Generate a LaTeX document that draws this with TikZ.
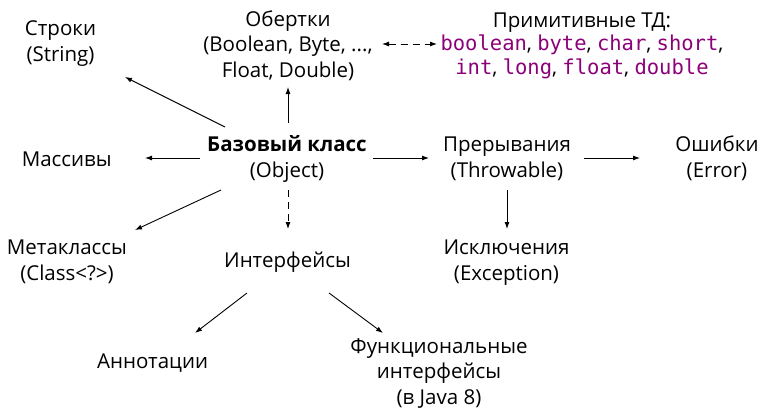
\documentclass[tikz,border=0pt]{standalone}
\usepackage{fontspec}
\setmainfont{Open Sans}
\setmonofont{DejaVu Sans Mono}
\usetikzlibrary{arrows.meta}
\definecolor{kwcol}{RGB}{140,0,120}
\newcommand\jkw[1]{\textcolor{kwcol}{\texttt{#1}}}
\begin{document}
\begin{tikzpicture}[x=1pt,y=-1pt,
  lbl/.style={font=\fontsize{20.5}{25.5}\selectfont, align=center, inner sep=0pt, anchor=base},
  arr/.style={-{Latex[length=7pt,width=5pt]}, line width=0.9pt},
  dsh/.style={arr, dash pattern=on 7pt off 5pt}]
\useasboundingbox (0,0) rectangle (761,410);
\node[lbl] (str) at (60.5,61) {Строки\\(String)};
\node[lbl] (obert) at (288,77) {Обертки\\(Boolean, Byte, ...,\\Float, Double)};
\node[lbl, font=\fontsize{20.5}{23.5}\selectfont] (prim) at (582,74) {Примитивные ТД:\\\jkw{boolean}, \jkw{byte}, \jkw{char}, \jkw{short},\\\jkw{int}, \jkw{long}, \jkw{float}, \jkw{double}};
\node[lbl] (obj) at (287,177) {\textbf{Базовый класс}\\(Object)};
\node[lbl] (mas) at (66.7,166) {Массивы};
\node[lbl] (prer) at (507,177) {Прерывания\\(Throwable)};
\node[lbl] (err) at (717,177) {Ошибки\\(Error)};
\node[lbl] (meta) at (67,280) {Метаклассы\\(Class<?>)};
\node[lbl] (intf) at (287.5,267) {Интерфейсы};
\node[lbl] (exc) at (506.5,280) {Исключения\\(Exception)};
\node[lbl] (ann) at (152.5,368) {Аннотации};
\node[lbl] (func) at (439,404) {Функциональные\\интерфейсы\\(в Java 8)};

\draw[arr] ([shift={(-62,-50)}]obj.base) -- ([shift={(64.5,16)}]str.base);
\draw[arr] ([shift={(-87,-19)}]obj.base) -- ([shift={(78.3,-8)}]mas.base);
\draw[arr] ([shift={(-66,13)}]obj.base) -- ([shift={(68,-50)}]meta.base);
\draw[arr] ([shift={(1,-54)}]obj.base) -- ([shift={(0,10)}]obert.base);
\draw[dsh] ([shift={(1,13)}]obj.base) -- ([shift={(0.5,-38)}]intf.base);
\draw[arr] ([shift={(86,-19)}]obj.base) -- ([shift={(-78,-19)}]prer.base);
\draw[arr] ([shift={(77,-19)}]prer.base) -- ([shift={(-77,-19)}]err.base);
\draw[arr] ([shift={(0,13)}]prer.base) -- ([shift={(0.5,-51)}]exc.base);
\draw[dsh, {Latex[length=7pt,width=5pt]}-{Latex[length=7pt,width=5pt]}] ([shift={(94,-33)}]obert.base) -- ([shift={(-145,-30)}]prim.base);
\draw[arr] ([shift={(-40.5,26)}]intf.base) -- ([shift={(42.5,-35)}]ann.base);
\draw[arr] ([shift={(41.5,26)}]intf.base) -- ([shift={(-56,-71)}]func.base);
\end{tikzpicture}
\end{document}
